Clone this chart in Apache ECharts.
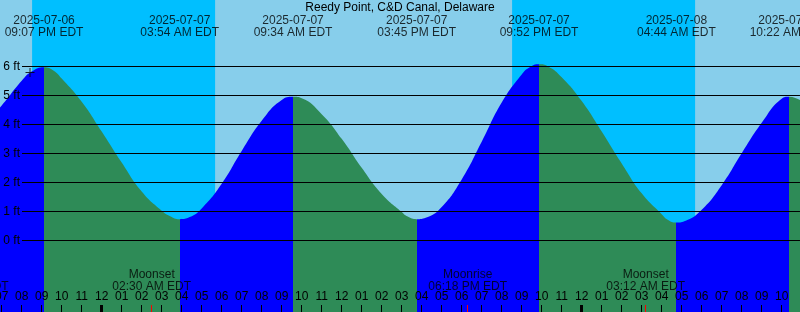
<!DOCTYPE html>
<html><head><meta charset="utf-8">
<script src="https://cdn.jsdelivr.net/npm/echarts@6/dist/echarts.min.js"></script>
<style>html,body{margin:0;padding:0;background:#87CEEB}#c{width:800px;height:312px}</style>
</head><body><div id="c"></div>
<script>
// ---- data (hours relative to 2025-07-07 00:00 EDT) ----
const chartTitle = 'Reedy Point, C&D Canal, Delaware';
const tideHours = [-6, -5, -4, -3.5, -2.883, -2.4, -2, -1, 0, 1, 2, 3, 3.4, 3.9, 4.4, 5, 6, 7, 8, 9, 9.567, 10, 11, 12, 13, 14, 15, 15.3, 15.75, 16.2, 17, 18, 19, 20, 21, 21.4, 21.867, 22.3, 23, 24, 25, 26, 27, 28, 28.3, 28.733, 29.2, 30, 31, 32, 33, 34, 34.367, 35];
const tideFeet  = [3.90, 4.65, 5.50, 5.82, 5.97, 5.85, 5.58, 4.78, 3.75, 2.68, 1.68, 1.02, 0.84, 0.73, 0.80, 1.10, 1.95, 3.08, 4.12, 4.84, 4.95, 4.90, 4.35, 3.50, 2.50, 1.60, 0.98, 0.82, 0.73, 0.78, 1.15, 2.10, 3.40, 4.75, 5.72, 5.97, 6.07, 6.00, 5.62, 4.80, 3.75, 2.65, 1.62, 0.90, 0.71, 0.61, 0.67, 1.05, 1.90, 3.00, 4.05, 4.88, 4.95, 4.80];
const extremeHours = [-2.883, 3.9, 9.567, 15.75, 21.867, 28.733, 34.367];
const extremeDates = ['2025-07-06', '2025-07-07', '2025-07-07', '2025-07-07', '2025-07-07', '2025-07-08', '2025-07-08'];
const extremeClock = ['09:07 PM EDT', '03:54 AM EDT', '09:34 AM EDT', '03:45 PM EDT', '09:52 PM EDT', '04:44 AM EDT', '10:22 AM EDT'];
const nightStart = [-3.48, 20.52];
const nightEnd = [5.67, 29.67];
const moonHours = [-6.62, 2.5, 18.3, 27.2];
const moonEvents = ['Moonrise', 'Moonset', 'Moonrise', 'Moonset'];
const moonClock = ['05:23 PM EDT', '02:30 AM EDT', '06:18 PM EDT', '03:12 AM EDT'];
const midnightHours = [0, 24];
const hourTicks = [-5, -4, -3, -2, -1, 0, 1, 2, 3, 4, 5, 6, 7, 8, 9, 10, 11, 12, 13, 14, 15, 16, 17, 18, 19, 20, 21, 22, 23, 24, 25, 26, 27, 28, 29, 30, 31, 32, 33, 34];
const depthLines = [0, 1, 2, 3, 4, 5, 6];
const nowHour = -3.585;
const nowFeet = 5.79;

// ---- axis ranges ----
const xMin = -5.085, xMax = 34.915;
const yMin = -2.4724, yMax = 8.2862;
const FONT = 'Liberation Sans';
const RISE = '#0000FF', FALL = '#2E8B57';

const tideData = tideHours.map((h, i) => [h, tideFeet[i]]);

// colour pieces: rising before each high, falling after
const pieces = [];
let prev = -Infinity;
extremeHours.forEach((h, i) => {
  const isHigh = (i % 2 === 0);
  const p = { color: isHigh ? RISE : FALL, lt: h };
  if (prev !== -Infinity) p.gte = prev;
  pieces.push(p);
  prev = h;
});
pieces.push({ gte: prev, color: FALL });

const hourLabel = v => {
  const h = ((Math.round(v) % 12) + 12) % 12;
  return h === 0 ? '12' : String(h).padStart(2, '0');
};

const baseX = {
  type: 'value', min: xMin, max: xMax, position: 'bottom', z: 10,
  axisLine: { show: false, onZero: false }, splitLine: { show: false }
};

const option = {
  animation: false,
  backgroundColor: '#87CEEB',
  title: {
    text: chartTitle, left: 'center', top: 2, padding: 0,
    textStyle: { fontFamily: FONT, fontSize: 12, fontWeight: 'normal', color: '#000', lineHeight: 12 }
  },
  grid: { left: 0, right: 0, top: 0, bottom: 0, containLabel: false, outerBoundsMode: 'none' },
  xAxis: [
    Object.assign({}, baseX, {
      axisTick: { show: true, inside: true, length: 7, customValues: hourTicks, lineStyle: { color: '#000', width: 1 } },
      axisLabel: { show: true, inside: true, margin: 9, customValues: hourTicks, formatter: hourLabel,
        fontFamily: FONT, fontSize: 12, color: '#000', hideOverlap: false }
    }),
    Object.assign({}, baseX, {
      axisTick: { show: true, inside: true, length: 7, customValues: midnightHours, lineStyle: { color: '#000', width: 3 } },
      axisLabel: { show: false }
    }),
    Object.assign({}, baseX, {
      axisTick: { show: true, inside: true, length: 7, customValues: moonHours.filter(h => h >= xMin), lineStyle: { color: '#FF0000', width: 1 } },
      axisLabel: { show: false }
    })
  ],
  yAxis: { type: 'value', min: yMin, max: yMax, show: false },
  visualMap: {
    show: false, type: 'piecewise', dimension: 0, seriesIndex: 1, pieces: pieces
  },
  series: [
    {
      type: 'line', data: [], z: 0,
      markArea: {
        silent: true,
        itemStyle: { color: '#00BFFF', opacity: 1 },
        data: nightStart.map((s, i) => [{ xAxis: s }, { xAxis: nightEnd[i] }])
      }
    },
    {
      type: 'line', data: tideData, z: 2, smooth: 0.5, symbol: 'none',
      lineStyle: { width: 0 },
      areaStyle: { opacity: 1, origin: 'start' }
    },
    {
      type: 'scatter', z: 4, clip: false, symbolSize: 0,
      data: extremeHours.map(h => [h, yMax]),
      label: {
        show: true, position: 'bottom', distance: 15, lineHeight: 12,
        fontFamily: FONT, fontSize: 12, color: '#000',
        formatter: p => extremeDates[p.dataIndex] + '\n' + extremeClock[p.dataIndex]
      },
      markLine: {
        silent: true, symbol: 'none', animation: false,
        lineStyle: { color: '#000', width: 1, type: 'solid' },
        label: { show: true, position: 'start', distance: 2, fontFamily: FONT, fontSize: 12, color: '#000',
          formatter: p => p.data.v + ' ft' },
        emphasis: { disabled: true },
        data: depthLines.map(v => [{ coord: [-3.985, v], v: v }, { coord: [xMax - 0.001, v] }])
      }
    },
    {
      type: 'scatter', z: 4, clip: false, symbolSize: 0,
      data: moonHours.map(h => [h, yMin]),
      label: {
        show: true, position: 'top', distance: 19, lineHeight: 12,
        fontFamily: FONT, fontSize: 12, color: '#000',
        formatter: p => moonEvents[p.dataIndex] + '\n' + moonClock[p.dataIndex]
      }
    },
    {
      type: 'scatter', z: 5, clip: false,
      symbol: 'path://M4,0h1v9h-1z M0,4h9v1h-9z', symbolSize: 9,
      itemStyle: { color: '#000' },
      data: [[nowHour, nowFeet]]
    }
  ]
};

const chart = echarts.init(document.getElementById('c'), null, { renderer: 'canvas' });
chart.setOption(option);
</script>
</body></html>
